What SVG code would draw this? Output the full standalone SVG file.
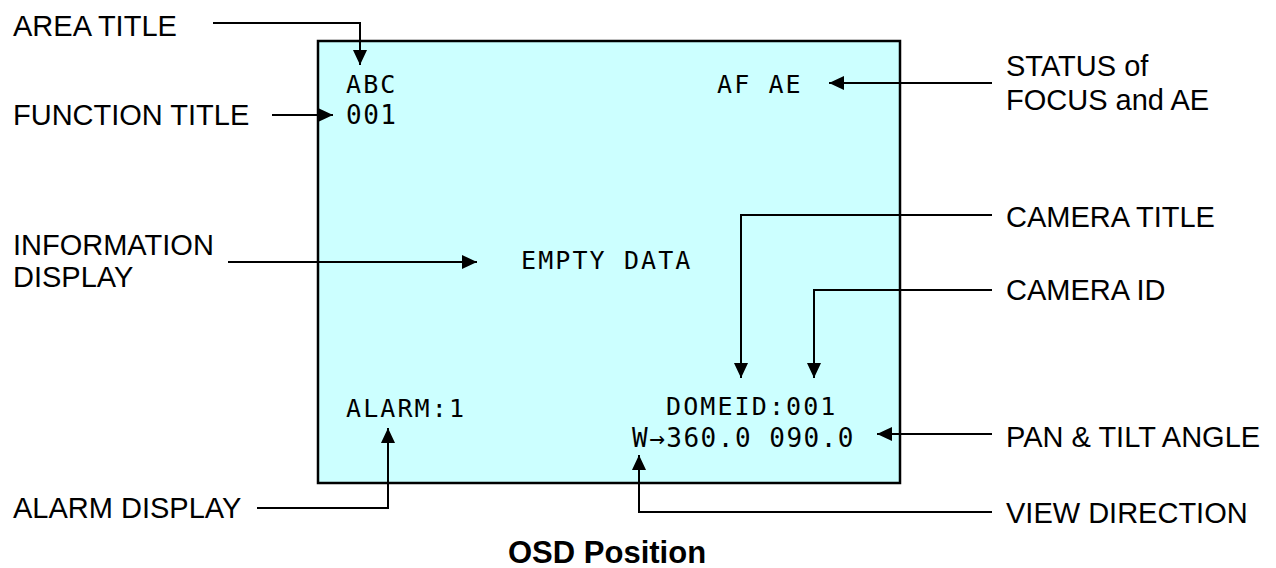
<svg xmlns="http://www.w3.org/2000/svg" width="1276" height="568" viewBox="0 0 1276 568">
<style>
.lbl{font-family:"Liberation Sans",Arial,sans-serif;font-size:29px;fill:#000}
.osd{font-family:"DejaVu Sans Mono",monospace;font-size:25px;letter-spacing:2.1px;fill:#000}
.big{font-size:26px;letter-spacing:1.5px}
.ttl{font-family:"Liberation Sans",Arial,sans-serif;font-size:31px;font-weight:bold;fill:#000}
.con{fill:none;stroke:#000;stroke-width:2;marker-end:url(#ah)}
</style>
<defs>
<marker id="ah" markerUnits="userSpaceOnUse" markerWidth="16" markerHeight="14" refX="15" refY="7" orient="auto">
<path d="M0,0 L15,7 L0,14 z" fill="#000"/>
</marker>
</defs>
<rect width="1276" height="568" fill="#fff"/>
<g id="screen">
<rect x="318" y="41" width="582" height="442" fill="#CCFFFF" stroke="#000" stroke-width="2.5"/>
<text class="osd" x="346" y="93">ABC</text>
<text class="osd big" x="346" y="124">001</text>
<text class="osd" x="717" y="93">AF AE</text>
<text class="osd" x="521" y="269">EMPTY DATA</text>
<text class="osd" x="346" y="417">ALARM:1</text>
<text class="osd" x="666" y="415">DOMEID:001</text>
<text class="osd big" x="632" y="447">W→360.0 090.0</text>
</g>
<g id="label-area-title"><text class="lbl" x="13" y="36">AREA TITLE</text></g>
<g id="label-function-title"><text class="lbl" x="13" y="125">FUNCTION TITLE</text></g>
<g id="label-status"><text class="lbl" x="1006" y="76">STATUS of</text><text class="lbl" x="1006" y="110">FOCUS and AE</text></g>
<g id="label-information"><text class="lbl" x="13" y="255">INFORMATION</text><text class="lbl" x="13" y="287">DISPLAY</text></g>
<g id="label-camera-title"><text class="lbl" x="1006" y="227">CAMERA TITLE</text></g>
<g id="label-camera-id"><text class="lbl" x="1006" y="300">CAMERA ID</text></g>
<g id="label-alarm-display"><text class="lbl" x="13" y="518">ALARM DISPLAY</text></g>
<g id="label-pan-tilt"><text class="lbl" x="1006" y="447">PAN &amp; TILT ANGLE</text></g>
<g id="label-view-direction"><text class="lbl" x="1006" y="523">VIEW DIRECTION</text></g>
<g id="caption"><text class="ttl" x="508" y="563">OSD Position</text></g>
<g id="connectors">
<path class="con" d="M213,23 H360 V65"/>
<path class="con" d="M272,115 H333"/>
<path class="con" d="M992,83 H829"/>
<path class="con" d="M228,262 H477"/>
<path class="con" d="M992,215 H741 V378"/>
<path class="con" d="M992,290 H814 V378"/>
<path class="con" d="M992,434 H877"/>
<path class="con" d="M992,512 H639 V455"/>
<path class="con" d="M257,508 H388 V428"/>
</g>
</svg>
